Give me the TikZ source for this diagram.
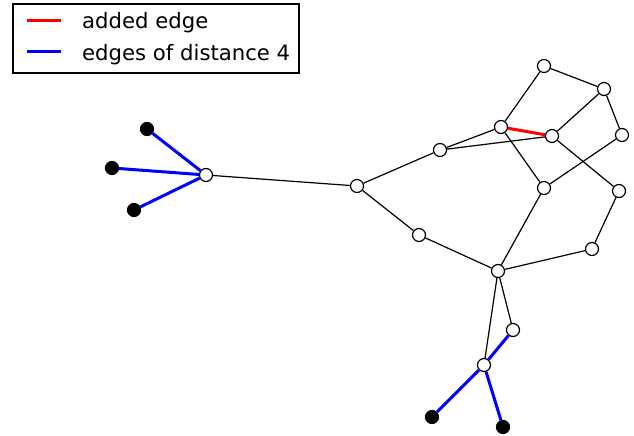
\documentclass[tikz,border=0pt]{standalone}
\usepackage{fontspec}
\setmainfont{DejaVu Sans}
\begin{document}
\begin{tikzpicture}[x=1pt,y=-1pt,
  wnode/.style={circle,draw=black,fill=white,line width=1.2pt,minimum size=13pt,inner sep=0pt},
  bnode/.style={circle,draw=black,fill=black,line width=1.2pt,minimum size=13pt,inner sep=0pt},
  edge/.style={black,line width=1.2pt},
  dedge/.style={blue,line width=3pt},
  aedge/.style={red,line width=3pt},
  lgtext/.style={anchor=base west,inner sep=0pt,font=\fontsize{21.2}{25}\selectfont}]
\useasboundingbox (0,0) rectangle (634,436);
% nodes
\node[wnode] (A) at (206,175) {};
\node[bnode] (L1) at (147,129) {};
\node[bnode] (L2) at (112,168) {};
\node[bnode] (L3) at (134,210) {};
\node[wnode] (C) at (357,186) {};
\node[wnode] (D) at (440,150) {};
\node[wnode] (E) at (501,127) {};
\node[wnode] (F) at (552,136) {};
\node[wnode] (G) at (544,66) {};
\node[wnode] (H) at (604,89) {};
\node[wnode] (I) at (622,135) {};
\node[wnode] (J) at (544,188) {};
\node[wnode] (K) at (619,191) {};
\node[wnode] (M) at (592,249) {};
\node[wnode] (N) at (419,235) {};
\node[wnode] (O) at (498,271) {};
\node[wnode] (P) at (513,330) {};
\node[wnode] (Q) at (484,365) {};
\node[bnode] (R1) at (432,417) {};
\node[bnode] (R2) at (503,427) {};
% edges
\draw[edge] (A) -- (C);
\draw[edge] (C) -- (D);
\draw[edge] (C) -- (N);
\draw[edge] (D) -- (E);
\draw[edge] (D) -- (F);
\draw[edge] (E) -- (G);
\draw[edge] (E) -- (J);
\draw[edge] (G) -- (H);
\draw[edge] (H) -- (F);
\draw[edge] (H) -- (I);
\draw[edge] (I) -- (J);
\draw[edge] (F) -- (K);
\draw[edge] (K) -- (M);
\draw[edge] (M) -- (O);
\draw[edge] (J) -- (O);
\draw[edge] (N) -- (O);
\draw[edge] (O) -- (Q);
\draw[edge] (O) -- (P);
\draw[aedge] (E) -- (F);
\draw[dedge] (A) -- (L1);
\draw[dedge] (A) -- (L2);
\draw[dedge] (A) -- (L3);
\draw[dedge] (P) -- (Q);
\draw[dedge] (Q) -- (R1);
\draw[dedge] (Q) -- (R2);
% legend
\draw[black,line width=1.2pt] (13,4) rectangle (299,73);
\coordinate (ra) at (27,21); \coordinate (rb) at (61,21);
\coordinate (ba) at (27,52); \coordinate (bb) at (61,52);
\draw[aedge] (ra) -- (rb);
\draw[dedge] (ba) -- (bb);
\node[lgtext] (t1) at (82,29) {added edge};
\node[lgtext] (t2) at (82,60) {edges of distance 4};
\end{tikzpicture}
\end{document}
